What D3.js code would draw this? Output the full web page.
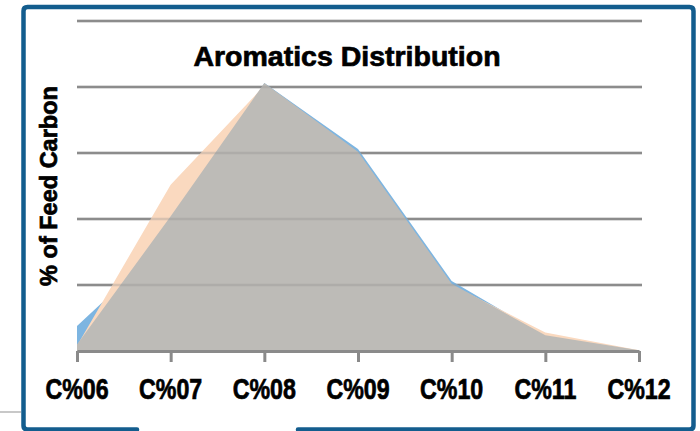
<!DOCTYPE html>
<html>
<head>
<meta charset="utf-8">
<script src="https://cdn.jsdelivr.net/npm/d3@7"></script>
<style>
  html, body { margin: 0; padding: 0; background: #fff; }
  svg { display: block; }
  text { font-family: "Liberation Sans", Arial, sans-serif; font-weight: bold; fill: #000; stroke: #000; stroke-width: 0.7px; }
</style>
</head>
<body>
<div id="viz"></div>
<script>
// chart data
const categories = ["C%06", "C%07", "C%08", "C%09", "C%10", "C%11", "C%12"];
const blueSeries = [1.9, 8.5, 20.3, 15.3, 5.3, 1.15, 0.0];
const peachSeries = [0.4, 12.6, 20.1, 14.6, 5.0, 1.4, 0.05];
const greySeries = [0.5, 10.2, 20.3, 15.1, 5.1, 1.2, 0.05];
const gridTicks = [5, 10, 15, 20, 25];

var W = 700, H = 431;

var svg = d3.select("#viz")
    .append("svg")
    .attr("width", W)
    .attr("height", H);

var x = d3.scalePoint()
    .domain(categories)
    .range([77, 639]);

var y = d3.scaleLinear()
    .domain([0, 25])
    .range([351, 21]);

// frame round the chart, open at the bottom left
svg.append("line")
    .attr("x1", 0).attr("x2", 21)
    .attr("y1", 412).attr("y2", 412)
    .attr("stroke", "#c8c8c8")
    .attr("stroke-width", 2);

svg.append("path")
    .attr("d", "M298,429.5 H689.5 Q693.5,429.5 693.5,425.5 V11 Q693.5,7 689.5,7 H27.5 Q23.5,7 23.5,11 V425.5 Q23.5,429.5 27.5,429.5 H137")
    .attr("fill", "none")
    .attr("stroke", "#135d8e")
    .attr("stroke-width", 4.5)
    .attr("stroke-linecap", "round");

function drawGrid(g, opacity) {
    g.selectAll("line")
        .data(gridTicks)
        .enter()
        .append("line")
        .attr("x1", 77)
        .attr("x2", 642)
        .attr("y1", function(d) { return y(d); })
        .attr("y2", function(d) { return y(d); })
        .attr("stroke", "#8c8c8c")
        .attr("stroke-width", 2.6)
        .attr("opacity", opacity);
}

drawGrid(svg.append("g"), 1);

var area = d3.area()
    .x(function(d, i) { return x(categories[i]); })
    .y0(y(0))
    .y1(function(d) { return y(d); });

svg.append("path").datum(blueSeries).attr("d", area).attr("fill", "#7db5e1");
svg.append("path").datum(peachSeries).attr("d", area).attr("fill", "#fad9bf");
svg.append("path").datum(greySeries).attr("d", area).attr("fill", "#bdbbb7");

// gridlines show faintly through the areas
drawGrid(svg.append("g"), 0.3);

// x axis
var xAxis = svg.append("g")
    .attr("transform", "translate(0," + y(0) + ")")
    .call(d3.axisBottom(x).tickSize(11).tickSizeOuter(0).tickFormat(""));

xAxis.select(".domain")
    .attr("stroke", "#8a8a8a")
    .attr("stroke-width", 3);
xAxis.selectAll(".tick line")
    .attr("stroke", "#8a8a8a")
    .attr("stroke-width", 3);

svg.append("g")
    .selectAll("text")
    .data(categories)
    .enter()
    .append("text")
    .attr("text-anchor", "middle")
    .attr("transform", function(d) { return "translate(" + x(d) + ",399) scale(0.8,1)"; })
    .attr("font-size", 29)
    .text(function(d) { return d; });

// title
svg.append("text")
    .attr("x", 347)
    .attr("y", 66)
    .attr("text-anchor", "middle")
    .attr("font-size", 28.5)
    .text("Aromatics Distribution");

// y axis label
svg.append("text")
    .attr("text-anchor", "middle")
    .attr("transform", "translate(57,186) rotate(-90)")
    .attr("font-size", 23.5)
    .text("% of Feed Carbon");
</script>
</body>
</html>
